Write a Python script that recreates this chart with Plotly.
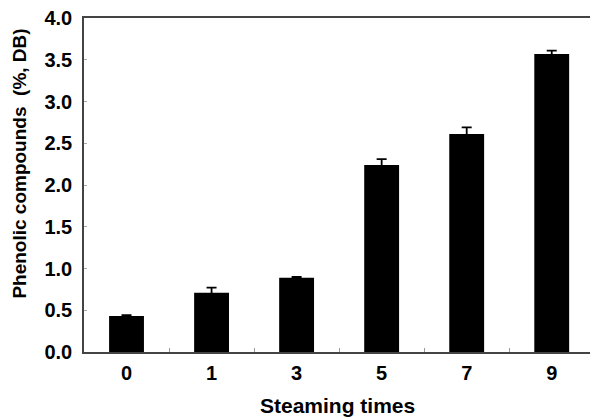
import plotly.graph_objects as go

categories = ["0", "1", "3", "5", "7", "9"]
values = [0.43, 0.71, 0.89, 2.24, 2.61, 3.57]
errors = [0.01, 0.06, 0.01, 0.07, 0.08, 0.04]
y_ticks = [0.0, 0.5, 1.0, 1.5, 2.0, 2.5, 3.0, 3.5, 4.0]
y_ticklabels = ["0.0", "0.5", "1.0", "1.5", "2.0", "2.5", "3.0", "3.5", "4.0"]

font_family = "Liberation Sans, Arial, sans-serif"

fig = go.Figure()
fig.add_trace(go.Bar(
    x=categories, y=values,
    marker=dict(color="black", line=dict(width=0)),
    width=0.41,
    error_y=dict(type="data", array=errors, visible=True, color="black",
                 thickness=1.8, width=5),
))

fig.update_layout(
    width=592, height=419,
    margin=dict(l=84, r=2, t=18, b=67),
    paper_bgcolor="white", plot_bgcolor="white",
    showlegend=False,
    font=dict(family=font_family, color="black"),
    xaxis=dict(
        type="category", range=[-0.5, 5.45], automargin=False,
        showline=True, linecolor="#444", linewidth=1.5, mirror=True,
        ticks="inside", tickson="boundaries", ticklen=4, tickcolor="#999", tickwidth=1,
        tickfont=dict(size=20, family=font_family, color="black", weight="bold"),
        ticklabelstandoff=2,
        showgrid=False, zeroline=False,
    ),
    yaxis=dict(
        range=[0, 4.0], tickvals=y_ticks, ticktext=y_ticklabels, automargin=False,
        showline=True, linecolor="#444", linewidth=1.5,
        ticks="inside", ticklen=3, tickcolor="#aaa", tickwidth=1,
        tickfont=dict(size=20, family=font_family, color="black", weight="bold"),
        ticklabelstandoff=6,
        showgrid=False, zeroline=False,
    ),
    annotations=[
        dict(
            text="Phenolic compounds  (%, DB)", textangle=-90,
            xref="paper", yref="paper", x=(20 - 84) / 506, y=0.564,
            xanchor="center", yanchor="middle",
            showarrow=False, font=dict(size=19, family=font_family, color="black", weight="bold"),
        ),
        dict(
            text="Steaming times",
            xref="paper", yref="paper", x=0.5, y=(352 - 405) / 334,
            xanchor="center", yanchor="middle",
            showarrow=False, font=dict(size=21, family=font_family, color="black", weight="bold"),
        ),
    ],
)

fig.write_html(
    "out.html",
    config={"displayModeBar": False},
    post_script="document.body.style.margin='0';document.body.style.padding='0';document.body.style.overflow='hidden';",
)
